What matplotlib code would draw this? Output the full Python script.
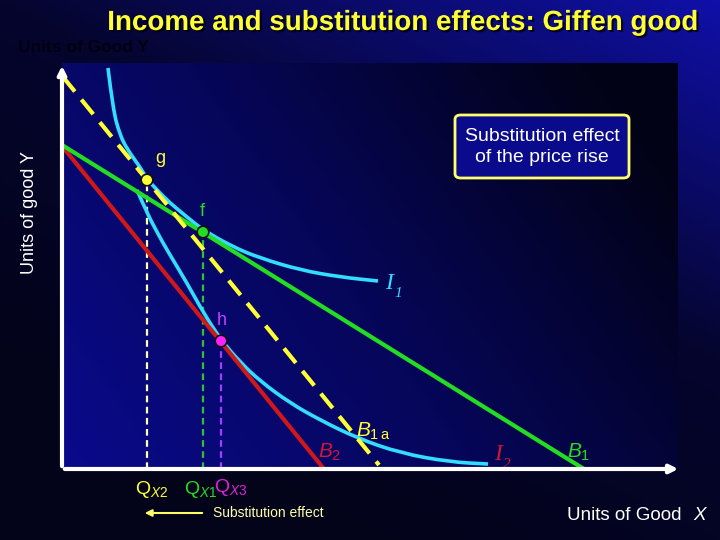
import numpy as np
import matplotlib
matplotlib.use('Agg')
import matplotlib.pyplot as plt
import matplotlib.patches as patches
import matplotlib.patheffects as pe
from matplotlib.path import Path
from matplotlib.colors import LinearSegmentedColormap

plt.rcParams['font.family'] = ['Liberation Sans', 'DejaVu Sans']
plt.rcParams['mathtext.fontset'] = 'custom'
plt.rcParams['mathtext.rm'] = 'Liberation Sans'
plt.rcParams['mathtext.it'] = 'Liberation Sans:italic'

# budget lines (x, y) end points
b1_x = [0.0, 52.2]
b1_y = [32.4, 0.0]
b2_x = [0.0, 26.2]
b2_y = [32.3, 0.0]
b1a_x = [0.1, 31.7]
b1a_y = [39.2, 0.4]

# indifference curves
i1_x = [4.6, 5.1, 5.8, 6.5, 7.8, 8.5, 9.6, 10.8, 12.5, 14.1, 17.1, 19.8, 23.8, 27.8, 31.6]
i1_y = [40.1, 35.9, 33.4, 32.0, 30.2, 29.0, 27.8, 26.6, 25.2, 23.9, 22.2, 21.1, 19.9, 19.2, 18.8]
i2_x = [7.5, 8.5, 9.5, 10.5, 12.5, 14.1, 15.9, 17.8, 19.8, 22.8, 25.8, 29.5, 33.8, 38.8, 42.6]
i2_y = [27.9, 25.6, 23.7, 21.9, 18.6, 15.7, 12.9, 10.7, 8.8, 6.6, 4.9, 3.1, 1.6, 0.7, 0.5]

# equilibrium points
pt_names = ['g', 'f', 'h']
pt_x = [8.5, 14.1, 15.9]
pt_y = [28.9, 23.7, 12.8]


def smooth_curve(xs, ys):
    # quadratic bezier through the midpoints, drawn by matplotlib's Path
    verts = [(xs[0], ys[0])]
    codes = [Path.MOVETO]
    for k in range(1, len(xs) - 1):
        verts += [(xs[k], ys[k]), ((xs[k] + xs[k + 1]) / 2, (ys[k] + ys[k + 1]) / 2)]
        codes += [Path.CURVE3, Path.CURVE3]
    verts.append((xs[-1], ys[-1]))
    codes.append(Path.LINETO)
    return Path(verts, codes)


fig = plt.figure(figsize=(7.2, 5.4), dpi=100)

# background gradient of the slide
bg = fig.add_axes([0, 0, 1, 1], zorder=-10)
bg.axis('off')
u, v = np.meshgrid(np.linspace(0, 1, 200), np.linspace(0, 1, 150))
cm_out = LinearSegmentedColormap.from_list('out', ['#03031a', '#05052e', '#1010a8'])
bg.imshow(np.clip(0.5 * u + 0.75 * v - 0.25, 0, 1), cmap=cm_out, origin='lower',
          extent=[0, 1, 0, 1], aspect='auto', vmin=0, vmax=1)
bg.set_xlim(0, 1)
bg.set_ylim(0, 1)

ax = fig.add_axes([62 / 720, 71 / 540, 616 / 720, 406 / 540])
ax.set_xlim(0, 61.6)
ax.set_ylim(0, 40.6)
ax.axis('off')
cm_in = LinearSegmentedColormap.from_list('in', ['#0a0a8c', '#06065a', '#020216'])
ax.imshow(np.clip(0.75 * u + 0.35 * v, 0, 1), cmap=cm_in, origin='lower',
          extent=[0, 61.6, 0, 40.6], aspect='auto', vmin=0, vmax=1, zorder=0)

# vertical dashed guides
ax.plot([pt_x[0], pt_x[0]], [0, pt_y[0]], color='#ffffb0', lw=1.6, ls=(0, (3, 2)), zorder=2)
ax.plot([pt_x[1], pt_x[1]], [0, pt_y[1]], color='#30c030', lw=1.6, ls=(0, (3, 2)), zorder=2)
ax.plot([pt_x[2], pt_x[2]], [0, pt_y[2]], color='#a040ff', lw=1.6, ls=(0, (3, 2)), zorder=2)

for cx, cy in [(i1_x, i1_y), (i2_x, i2_y)]:
    ax.add_patch(patches.PathPatch(smooth_curve(cx, cy), fill=False, ec='#33ddff',
                                   lw=2.6, zorder=3, capstyle='butt'))
ax.plot(b2_x, b2_y, color='#d01818', lw=3, zorder=4)
ax.plot(b1_x, b1_y, color='#22dd22', lw=3, zorder=4)
ax.plot(b1a_x, b1a_y, color='#ffff33', lw=3, ls=(0, (4.5, 2.5)), zorder=5)

ax.scatter(pt_x, pt_y, s=70, c=['#ffff33', '#22dd22', '#ff22ff'],
           edgecolors='#101010', linewidths=1.2, zorder=6)

# axes with arrows
ax.annotate('', xy=(0, 1.0), xytext=(0, 0), xycoords='axes fraction',
            arrowprops=dict(arrowstyle='-|>', color='white', lw=3, mutation_scale=12),
            annotation_clip=False, zorder=7)
ax.annotate('', xy=(1.005, 0), xytext=(0, 0), xycoords='axes fraction',
            arrowprops=dict(arrowstyle='-|>', color='white', lw=3, mutation_scale=12),
            annotation_clip=False, zorder=7)

# point labels
ax.text(9.3, 30.6, pt_names[0], color='#ffff33', fontsize=13)
ax.text(13.8, 25.3, pt_names[1], color='#22dd22', fontsize=13)
ax.text(15.5, 14.4, pt_names[2], color='#c040ff', fontsize=13)

# curve / line labels
ax.text(32.3, 18.0, 'I', color='#33ddff', fontsize=17, style='italic', family='Liberation Serif')
ax.text(33.2, 17.2, '1', color='#33ddff', fontsize=11, style='italic', family='Liberation Serif')
ax.text(43.2, 0.9, 'I', color='#d01830', fontsize=17, style='italic', family='Liberation Serif')
ax.text(44.1, 0.1, '2', color='#d01830', fontsize=11, style='italic', family='Liberation Serif')
ax.text(25.6, 1.1, r'$B_2$', color='#d01830', fontsize=15)
ax.text(29.4, 3.2, r'$B_{1\,\mathrm{a}}$', color='#ffff33', fontsize=15)
ax.text(50.5, 1.1, r'$B_1$', color='#22dd22', fontsize=15)

# quantity labels below the axis
fig.text(135 / 720, 1 - 490 / 540, r'$\mathrm{Q}_{X2}$', color='#ffff33', fontsize=14, va='center')
fig.text(184 / 720, 1 - 490 / 540, r'$\mathrm{Q}_{X1}$', color='#22dd22', fontsize=14, va='center')
fig.text(214 / 720, 1 - 488 / 540, r'$\mathrm{Q}_{X3}$', color='#dd22dd', fontsize=14, va='center')

fig.add_artist(patches.FancyArrowPatch((205 / 720, 1 - 513 / 540), (142 / 720, 1 - 513 / 540),
                                       transform=fig.transFigure, arrowstyle='-|>',
                                       mutation_scale=10, color='#ffff66', lw=1.5))
fig.text(213 / 720, 1 - 513 / 540, 'Substitution effect', color='#ffffaa', fontsize=10, va='center')

# box
box = patches.FancyBboxPatch((455 / 720, 1 - 178 / 540), 174 / 720, 63 / 540,
                             boxstyle='round,pad=0,rounding_size=0.008',
                             transform=fig.transFigure, fc='#0a0a8c', ec='#ffff70', lw=2)
fig.add_artist(box)
fig.text(542 / 720, 1 - 147 / 540, 'Substitution effect\nof the price rise', color='white',
         fontsize=14, ha='center', va='center', linespacing=1.3)

# axis titles
fig.text(30 / 720, 1 - 212 / 540, 'Units of good Y', color='white', fontsize=13,
         rotation=90, ha='center', va='center')
fig.text(567 / 720, 1 - 516 / 540, 'Units of Good ', color='white', fontsize=13.5, va='center')
fig.text(693 / 720, 1 - 516 / 540, 'X', color='white', fontsize=13.5, va='center', style='italic')
fig.text(18 / 720, 1 - 48 / 540, 'Units of Good Y', color='#000010', fontsize=12.5,
         fontweight='bold', va='center')

fig.text(403 / 720, 1 - 23 / 540, 'Income and substitution effects: Giffen good',
         color='#ffff33', fontsize=20, fontweight='bold', ha='center', va='center',
         path_effects=[pe.withSimplePatchShadow(offset=(1.5, -1.5), shadow_rgbFace='#000000', alpha=0.8)])

fig.savefig('out.png', dpi=100, facecolor=fig.get_facecolor())
